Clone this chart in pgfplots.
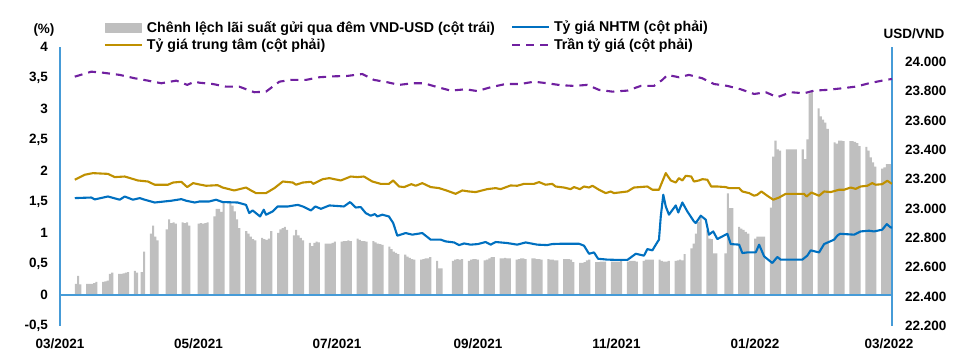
\documentclass[border=0pt]{standalone}
\usepackage{fontspec}
\setmainfont{Liberation Sans}
\usepackage{pgfplots}
\pgfplotsset{compat=1.18}
\definecolor{barcol}{RGB}{191,191,191}
\definecolor{nhtm}{RGB}{0,112,192}
\definecolor{goldc}{RGB}{191,144,0}
\definecolor{ceilc}{RGB}{112,32,160}
\definecolor{axblue}{RGB}{70,155,215}
\newcommand{\lbl}{\bfseries\fontsize{13.5}{16}\selectfont}
\newcommand{\leg}{\bfseries\fontsize{14.2}{17}\selectfont}
\pgfplotsset{
  lineleg/.style={legend image code/.code={\draw[##1] (0pt,0pt) -- (37pt,0pt);}},
  barleg/.style={legend image code/.code={\fill[barcol] (0pt,-4.5pt) rectangle (36pt,4.5pt);}},
}

\begin{document}
\begin{tikzpicture}
\useasboundingbox (-60pt,-38pt) rectangle (909pt,326pt);
\begin{axis}[
  at={(0pt,0pt)}, anchor=south west,
  scale only axis, width=832pt, height=279pt,
  xmin=2, xmax=368.3, ymin=-0.5, ymax=4,
  axis y line*=left, axis x line*=bottom,
  x axis line style={draw=none},
  y axis line style={draw=axblue, line width=1.2pt, -},
  xtick={2,63,124,186,247,308,367},
  xticklabels={03/2021,05/2021,07/2021,09/2021,11/2021,01/2022,03/2022},
  ytick={-0.5,0,0.5,1,1.5,2,2.5,3,3.5,4},
  major tick length=0pt,
  tick label style={font=\lbl},
  /pgf/number format/use comma,
  /pgf/number format/fixed,
  /pgf/number format/assume math mode=true,
  yticklabel style={anchor=east, xshift=-8.5pt},
  xticklabel style={yshift=-9pt},
  clip=true,
]
\addplot[ybar, bar width=0.9, bar shift=0pt, fill=barcol, draw=none] table {
n v
9 0.18
10 0.31
11 0.17
14 0.18
15 0.18
16 0.18
17 0.19
18 0.21
21 0.21
22 0.22
23 0.23
24 0.34
25 0.36
28 0.34
29 0.34
30 0.35
31 0.36
32 0.37
35 0.39
36 0.36
38 0.37
39 0.70
42 0.99
43 1.12
44 0.94
45 0.88
49 1.06
50 1.22
51 1.16
52 1.17
53 1.15
56 1.17
57 1.16
58 1.17
59 1.12
63 1.15
64 1.16
65 1.15
66 1.16
67 1.17
70 1.27
71 1.39
72 1.39
73 1.34
74 1.48
77 1.48
78 1.44
79 1.35
80 1.22
81 1.08
84 1.03
85 0.99
86 0.94
87 0.90
88 0.88
91 0.92
92 0.90
93 0.89
94 0.91
95 1.03
98 1.00
99 1.06
100 1.08
101 1.10
102 1.05
105 0.96
106 1.05
107 0.96
108 0.92
109 0.88
112 0.84
113 0.79
114 0.84
115 0.86
116 0.85
119 0.83
120 0.83
121 0.83
122 0.84
123 0.86
126 0.86
127 0.87
128 0.87
129 0.88
130 0.87
133 0.91
134 0.89
135 0.87
136 0.87
137 0.86
140 0.87
141 0.85
142 0.83
143 0.82
144 0.81
147 0.78
148 0.74
149 0.70
150 0.68
151 0.66
154 0.65
155 0.62
156 0.60
157 0.58
158 0.57
161 0.57
162 0.58
163 0.59
164 0.59
165 0.61
168 0.55
169 0.43
170 0.43
175 0.55
176 0.57
177 0.58
178 0.57
179 0.58
182 0.55
183 0.57
184 0.58
185 0.58
186 0.57
189 0.56
190 0.57
191 0.59
192 0.61
193 0.61
196 0.59
197 0.59
198 0.60
199 0.59
200 0.59
203 0.57
204 0.58
205 0.59
206 0.59
207 0.58
210 0.59
211 0.59
212 0.58
213 0.58
214 0.57
217 0.58
218 0.57
219 0.57
220 0.56
221 0.56
224 0.58
225 0.58
226 0.58
227 0.57
228 0.53
231 0.52
232 0.52
233 0.53
234 0.56
235 0.57
238 0.53
239 0.53
240 0.54
241 0.54
242 0.54
245 0.54
246 0.54
247 0.54
248 0.54
249 0.55
252 0.54
253 0.55
254 0.55
255 0.55
256 0.54
259 0.55
260 0.57
261 0.57
262 0.57
263 0.57
266 0.57
267 0.55
268 0.54
269 0.54
270 0.55
273 0.55
274 0.56
275 0.57
276 0.56
277 0.66
280 0.75
281 0.83
282 0.99
283 1.18
284 1.24
287 1.05
288 0.91
289 0.90
290 0.67
291 0.67
295 0.67
296 1.64
297 1.40
298 1.40
301 1.10
302 1.07
303 1.05
304 1.02
305 0.99
308 0.91
309 0.94
310 0.94
311 0.94
312 0.94
315 1.41
316 2.23
317 2.49
318 2.35
319 2.33
322 2.35
323 2.35
324 2.35
325 2.35
326 2.35
329 2.35
330 2.19
331 2.51
332 3.25
333 3.30
336 3.01
337 2.88
338 2.83
339 2.78
340 2.68
343 2.46
344 2.44
345 2.49
346 2.49
347 2.48
350 2.48
351 2.48
352 2.47
353 2.45
354 2.40
357 2.39
358 2.33
359 2.22
360 2.14
361 2.07
364 2.04
365 2.06
366 2.11
367 2.11
368 2.11
};
\draw[axblue, line width=1.2pt] (axis cs:2,0) -- (axis cs:368.3,0);
\end{axis}

\begin{axis}[
  at={(0pt,0pt)}, anchor=south west,
  scale only axis, width=832pt, height=279pt,
  xmin=2, xmax=368.3, ymin=22200, ymax=24100,
  axis y line*=right, axis x line=none,
  y axis line style={draw=axblue, line width=1.2pt, -},
  ytick={22200,22400,22600,22800,23000,23200,23400,23600,23800,24000},
  scaled y ticks=false,
  major tick length=0pt,
  /pgf/number format/use comma,
  /pgf/number format/fixed,
  /pgf/number format/assume math mode=true,
  yticklabel style={font=\lbl, anchor=west, xshift=9.5pt},
  legend columns=2,
  legend cell align=left,
  legend style={at={(rel axis cs:0.0525,1.097)}, anchor=north west, draw=none, fill=none,
    font=\leg, inner sep=0pt, row sep=3pt,
    nodes={inner sep=1pt},
    /tikz/every odd column/.style={column sep=3pt},
    /tikz/every even column/.style={column sep=15pt}},
  line join=round,
]
\addlegendimage{barleg}
\addlegendentry{Chênh lệch lãi suất gửi qua đêm VND-USD (cột trái)}
\addplot[nhtm, line width=2.1pt, lineleg] table {
n r
8.5 23071
15.8 23075
17.3 23062
23.1 23082
28.3 23060
30.5 23082
34.1 23060
37.1 23071
39.3 23060
43.7 23041
51.0 23053
55.4 23064
57.6 23053
61.3 23041
63.5 23048
67.7 23048
70.7 23060
73.6 23044
80.2 23041
83.9 23025
85.3 22969
86.8 22987
90.1 22946
91.7 22992
92.7 22958
95.6 22980
97.8 23014
102.3 23014
106.7 23025
108.9 23014
112.5 22987
114.4 23014
116.9 22998
120.6 23021
127.0 23014
129.7 23044
132.2 23007
134.4 23010
136.6 22969
138.8 22951
140.6 22962
141.7 22946
143.9 22958
146.8 22946
148.7 22901
150.5 22815
154.2 22833
157.1 22822
161.5 22833
165.2 22788
169.6 22788
171.8 22776
175.5 22769
177.7 22751
179.9 22762
182.8 22754
186.0 22758
189.4 22772
191.6 22754
193.8 22772
198.9 22765
203.3 22754
207.0 22769
212.1 22754
216.5 22751
218.7 22758
222.4 22760
230.5 22760
232.7 22747
234.9 22692
237.1 22701
238.9 22658
243.0 22652
247.7 22650
251.8 22650
255.5 22692
259.1 22679
260.6 22724
262.8 22715
264.3 22754
265.7 22788
266.5 22946
267.6 23094
268.7 23014
270.1 22958
273.1 23021
274.2 22973
276.0 23041
278.2 22980
281.1 22912
281.9 22901
284.1 22951
286.3 22924
287.7 22822
289.6 22844
291.4 22792
295.8 22828
297.3 22758
301.0 22754
302.4 22697
304.6 22701
308.3 22701
309.8 22754
312.0 22674
315.6 22629
317.8 22670
319.3 22652
328.8 22652
331.0 22679
332.5 22715
336.2 22701
338.4 22758
342.8 22788
344.2 22815
345.4 22828
351.6 22822
354.5 22844
358.2 22849
360.4 22844
364.0 22856
366.0 22894
367.7 22871
368.3 22871
};
\addlegendentry{Tỷ giá NHTM (cột phải)}
\addplot[goldc, line width=2.1pt, lineleg] table {
n r
8.5 23196
12.9 23230
16.5 23241
23.1 23236
26.1 23214
30.5 23218
36.3 23191
40.7 23184
43.7 23162
49.5 23162
51.8 23177
55.4 23182
58.0 23146
60.6 23173
63.0 23165
66.3 23155
71.4 23159
73.6 23143
78.7 23123
83.9 23143
86.1 23123
88.3 23105
92.7 23105
96.4 23139
100.1 23184
104.5 23177
105.9 23162
108.9 23177
112.5 23182
113.5 23168
117.7 23200
120.6 23207
125.6 23191
130.0 23218
132.9 23214
135.8 23218
139.5 23184
143.2 23168
146.8 23168
148.7 23191
151.3 23150
153.5 23146
156.7 23166
158.6 23155
161.5 23173
165.2 23146
168.9 23139
172.5 23121
176.2 23100
179.1 23123
182.1 23116
185.0 23112
190.1 23132
193.8 23139
196.0 23132
200.4 23157
203.3 23155
206.3 23168
210.7 23168
212.9 23180
215.8 23162
218.7 23168
220.2 23150
223.9 23143
226.8 23132
228.3 23146
230.9 23132
232.7 23150
234.9 23143
236.4 23155
239.3 23128
242.3 23105
244.5 23116
245.9 23105
251.8 23116
254.7 23143
260.6 23150
262.8 23128
265.7 23128
268.7 23241
270.9 23191
273.1 23177
274.5 23207
276.0 23191
277.5 23223
279.9 23218
281.1 23184
283.3 23191
284.8 23200
287.0 23196
288.7 23150
291.4 23150
295.1 23146
296.5 23139
301.0 23139
302.4 23116
305.4 23105
307.6 23087
309.0 23094
310.8 23116
313.4 23087
316.0 23060
318.6 23075
321.5 23100
329.6 23100
330.7 23082
332.8 23109
336.2 23087
338.4 23116
341.3 23112
345.0 23128
347.2 23128
350.1 23143
352.3 23134
354.5 23150
357.4 23155
359.6 23173
361.1 23162
364.0 23166
366.2 23189
368.3 23168
};
\addlegendentry{Tỷ giá trung tâm (cột phải)}
\addplot[ceilc, line width=2.1pt, dash pattern=on 8pt off 6pt, lineleg] table {
n r
8.5 23898
15.8 23932
20.9 23925
28.3 23910
34.9 23887
40.7 23871
46.6 23853
53.2 23871
58.0 23842
61.3 23864
63.3 23857
69.2 23848
75.1 23830
80.9 23830
87.5 23792
92.7 23796
98.6 23864
103.7 23876
110.3 23876
116.2 23894
122.1 23900
128.5 23903
135.1 23916
140.2 23876
146.1 23860
151.3 23842
157.1 23853
162.3 23853
167.4 23830
174.0 23803
180.6 23812
185.7 23800
191.6 23826
198.2 23848
204.8 23848
210.7 23864
216.5 23853
222.4 23840
228.3 23835
234.2 23842
239.3 23808
245.2 23796
251.8 23803
257.7 23835
263.5 23835
267.2 23876
269.4 23910
274.5 23894
278.9 23910
284.8 23887
289.9 23848
295.8 23835
301.7 23812
307.6 23780
312.7 23792
317.8 23758
323.7 23792
329.6 23785
334.0 23803
339.8 23808
346.4 23819
352.3 23830
358.2 23853
365.5 23876
368.3 23882
};
\addlegendentry{Trần tỷ giá (cột phải)}
\end{axis}
\node[font=\lbl] at (-16pt,296pt) {(\%)};
\node[font=\lbl] at (854pt,292pt) {USD/VND};
\end{tikzpicture}
\end{document}
